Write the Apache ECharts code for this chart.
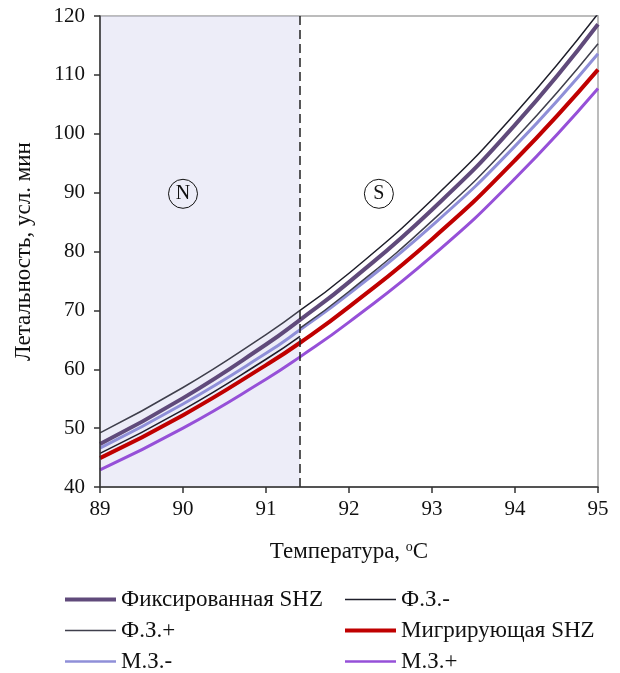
<!DOCTYPE html>
<html>
<head>
<meta charset="utf-8">
<script src="https://cdn.jsdelivr.net/npm/echarts@6/dist/echarts.min.js"></script>
<style>
  html, body { margin: 0; padding: 0; background: #fff; }
  #chart { width: 620px; height: 673px; }
</style>
</head>
<body>
<div id="chart"></div>
<script>
// температуры, при которых сняты значения
const temps = [89, 90, 91, 91.41, 92, 93, 94, 95]
const tempsN = [89, 90, 91, 91.41]
const tempsS = [91.41, 92, 93, 94, 95]

const fixedSHZ = [47.3, 55.1, 64.2, 68.4, 74.8, 87.1, 101.5, 118.6]
const migrSHZ = [44.9, 52.2, 60.7, 64.5, 70.6, 82.1, 95.5, 110.9]
const mzMinus = [46.6, 54.1, 62.7, 66.7, 72.8, 84.4, 97.9, 113.6]
const mzPlus = [42.9, 50.0, 58.3, 62.1, 68.0, 79.2, 92.4, 107.7]
// Ф.З. — разрыв на границе зон
const fzPlusN = [49.2, 56.9, 65.9, 70.0]
const fzPlusS = [67.0, 73.2, 85.2, 99.1, 115.3]
const fzMinusN = [45.7, 53.1, 61.7, 65.6]
const fzMinusS = [70.0, 76.3, 88.8, 103.4, 120.4]

const zoneBorder = 91.41
const yTicks = { min: 40, max: 120, step: 10 }
const xTicks = { min: 89, max: 95, step: 1 }

const font = '"Liberation Serif", "Times New Roman", serif'

const pairs = (xs, ys) => xs.map((x, i) => [x, ys[i]])
const withBreak = (n, s) => pairs(tempsN, n).concat([[zoneBorder, '-']], pairs(tempsS, s))

function line(name, data, color, width, z) {
  return {
    name, type: 'line', data, smooth: true, symbol: 'none', z,
    lineStyle: { color, width }, itemStyle: { color }
  }
}

// легенда: 2 колонки по 3 строки
function legendItem(name, left, top, thick) {
  return {
    left, top, icon: 'rect', itemWidth: 51, itemHeight: thick,
    textStyle: { fontFamily: font, fontSize: 23, color: '#111' },
    data: [name]
  }
}

const chart = echarts.init(document.getElementById('chart'))
chart.setOption({
  animation: false,
  textStyle: { fontFamily: font },
  grid: { left: 100, right: 22, top: 16, bottom: 186, show: true, borderColor: '#a6a6a6', borderWidth: 1.5, backgroundColor: 'transparent' },
  legend: [
    legendItem('Фиксированная SHZ', 60, 583, 4),
    legendItem('Ф.З.-', 340, 583, 1.5),
    legendItem('Ф.З.+', 60, 614, 1.5),
    legendItem('Мигрирующая SHZ', 340, 614, 4),
    legendItem('М.З.-', 60, 645, 2.5),
    legendItem('М.З.+', 340, 645, 2.5)
  ],
  xAxis: {
    type: 'value', min: xTicks.min, max: xTicks.max, interval: xTicks.step, z: 10,
    name: 'Температура, {sup|o}C', nameLocation: 'middle', nameGap: 53,
    nameTextStyle: {
      fontFamily: font, fontSize: 23, color: '#111',
      rich: { sup: { fontFamily: font, fontSize: 14, color: '#111', verticalAlign: 'top', padding: [0, 0, 9, 0] } }
    },
    axisLine: { lineStyle: { color: '#333', width: 1.5 } },
    axisTick: { show: true, length: 6, lineStyle: { color: '#333', width: 1.5 } },
    axisLabel: { fontFamily: font, fontSize: 21, color: '#111', margin: 12 },
    splitLine: { show: false }
  },
  yAxis: {
    type: 'value', min: yTicks.min, max: yTicks.max, interval: yTicks.step, z: 10,
    name: 'Летальность, усл. мин', nameLocation: 'middle', nameGap: 65,
    nameTextStyle: { fontFamily: font, fontSize: 23, color: '#111' },
    axisLine: { show: true, lineStyle: { color: '#333', width: 1.5 } },
    axisTick: { show: true, length: 6, lineStyle: { color: '#333', width: 1.5 } },
    axisLabel: { fontFamily: font, fontSize: 21, color: '#111', margin: 15 },
    splitLine: { show: false }
  },
  series: [
    line('Фиксированная SHZ', pairs(temps, fixedSHZ), '#604a7b', 4, 3),
    line('Ф.З.-', withBreak(fzMinusN, fzMinusS), '#1e1e2a', 1.5, 4),
    line('Ф.З.+', withBreak(fzPlusN, fzPlusS), '#3f3f4c', 1.5, 4),
    line('Мигрирующая SHZ', pairs(temps, migrSHZ), '#c00000', 4, 3),
    line('М.З.-', pairs(temps, mzMinus), '#8f8fd8', 3, 2),
    line('М.З.+', pairs(temps, mzPlus), '#9650d8', 3, 2),
    {
      // зона N поверх линий, граница и подписи зон
      type: 'line', data: [], z: 6, silent: true,
      markArea: {
        silent: true,
        itemStyle: { color: 'rgba(200, 200, 232, 0.32)' },
        data: [[{ xAxis: xTicks.min }, { xAxis: zoneBorder }]]
      },
      markLine: {
        silent: true, symbol: 'none', label: { show: false },
        lineStyle: { color: '#222', width: 1.5, type: [9, 5] },
        data: [{ xAxis: zoneBorder }]
      },
      markPoint: {
        silent: true, symbol: 'circle', symbolSize: 29,
        itemStyle: { color: 'rgba(0,0,0,0)', borderColor: '#111', borderWidth: 1 },
        label: { show: true, fontFamily: font, fontSize: 20, color: '#111', formatter: p => p.name },
        data: [
          { name: 'N', coord: [90, 89.8] },
          { name: 'S', coord: [92.36, 89.8] }
        ]
      }
    }
  ]
})
</script>
</body>
</html>
